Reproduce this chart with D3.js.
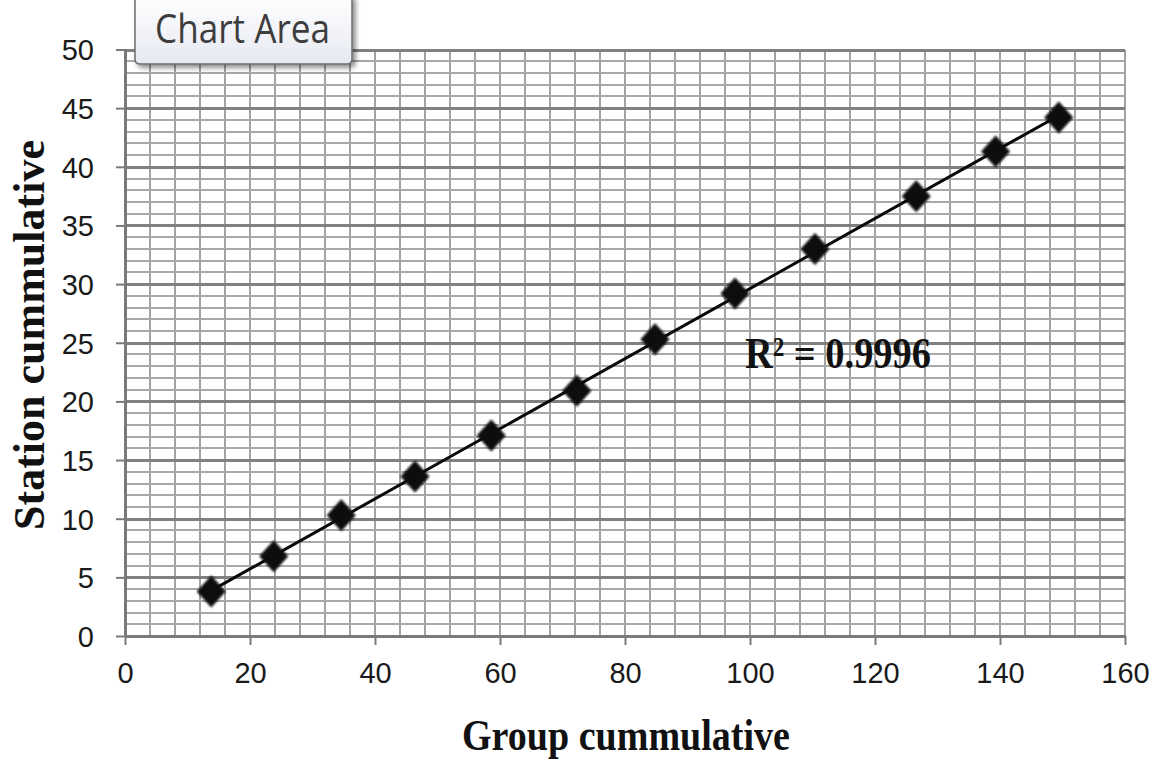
<!DOCTYPE html>
<html>
<head>
<meta charset="utf-8">
<script src="https://cdn.jsdelivr.net/npm/d3@7"></script>
<style>
  html, body { margin: 0; padding: 0; background: #ffffff; }
  svg { display: block; }
</style>
</head>
<body>
<script>
// Cumulative totals: group (x) against station (y)
const groupCumulative   = [13.8, 23.8, 34.6, 46.4, 58.6, 72.3, 84.8, 97.6, 110.4, 126.6, 139.3, 149.4];
const stationCumulative = [3.8, 6.8, 10.3, 13.6, 17.1, 20.9, 25.3, 29.2, 33.0, 37.5, 41.3, 44.2];
const xTickValues = [0, 20, 40, 60, 80, 100, 120, 140, 160];
const yTickValues = [0, 5, 10, 15, 20, 25, 30, 35, 40, 45, 50];
const xTitle = "Group cummulative";
const yTitle = "Station cummulative";
const tooltipText = "Chart Area";

const W = 1159, H = 763;
const svg = d3.select("body").append("svg").attr("width", W).attr("height", H);

const defs = svg.append("defs");
const grad = defs.append("linearGradient").attr("id", "tipFill").attr("x1", 0).attr("y1", 0).attr("x2", 0).attr("y2", 1);
grad.append("stop").attr("offset", "0%").attr("stop-color", "#ffffff");
grad.append("stop").attr("offset", "100%").attr("stop-color", "#e6e9f2");
const shadow = defs.append("filter").attr("id", "tipShadow").attr("x", "-10%").attr("y", "-10%").attr("width", "130%").attr("height", "150%");
shadow.append("feDropShadow").attr("dx", 3).attr("dy", 3).attr("stdDeviation", 2.5).attr("flood-color", "#000").attr("flood-opacity", 0.45);
const soft = defs.append("filter").attr("id", "soft").attr("x", "-30%").attr("y", "-30%").attr("width", "160%").attr("height", "160%");
soft.append("feGaussianBlur").attr("stdDeviation", 0.8);

const x = d3.scaleLinear().domain([0, 160]).range([125, 1125]);
const y = d3.scaleLinear().domain([0, 50]).range([636, 49.5]);

// Grid: minor vertical every 4 units, horizontal every unit, darker every 5
const grid = svg.append("g").attr("shape-rendering", "crispEdges");
grid.selectAll("line.v").data(d3.range(4, 161, 4)).join("line")
  .attr("x1", d => Math.round(x(d))).attr("x2", d => Math.round(x(d)))
  .attr("y1", y(0)).attr("y2", y(50))
  .attr("stroke", "#a3a3a3").attr("stroke-width", 2);
grid.selectAll("line.hm").data(d3.range(1, 51).filter(d => d % 5 !== 0)).join("line")
  .attr("x1", x(0)).attr("x2", x(160))
  .attr("y1", d => Math.round(y(d))).attr("y2", d => Math.round(y(d)))
  .attr("stroke", "#a8a8a8").attr("stroke-width", 2);
grid.selectAll("line.hM").data(yTickValues.filter(d => d > 0)).join("line")
  .attr("x1", x(0)).attr("x2", x(160))
  .attr("y1", d => Math.round(y(d))).attr("y2", d => Math.round(y(d)))
  .attr("stroke", "#808080").attr("stroke-width", 3);

// Axes
const xAxis = svg.append("g").attr("transform", `translate(0,${y(0)})`)
  .call(d3.axisBottom(x).tickValues(xTickValues).tickSize(9).tickPadding(22).tickSizeOuter(0));
const yAxis = svg.append("g").attr("transform", `translate(${x(0)},0)`)
  .call(d3.axisLeft(y).tickValues(yTickValues).tickSize(9).tickPadding(22).tickSizeOuter(0));
[xAxis, yAxis].forEach(g => {
  g.select(".domain").attr("stroke", "#7a7a7a").attr("stroke-width", 3);
  g.selectAll(".tick line").attr("stroke", "#7a7a7a").attr("stroke-width", 2);
  g.selectAll(".tick text")
    .attr("font-family", "'Liberation Sans', Arial, sans-serif")
    .attr("font-size", 29).attr("fill", "#1a1a1a");
});
xAxis.selectAll(".tick text").attr("dy", "0.55em");
yAxis.selectAll(".tick text").attr("dy", "0.36em");

// Linear trendline over the data range
const n = groupCumulative.length;
const mx = d3.mean(groupCumulative), my = d3.mean(stationCumulative);
let sxy = 0, sxx = 0;
for (let i = 0; i < n; i++) {
  sxy += (groupCumulative[i] - mx) * (stationCumulative[i] - my);
  sxx += (groupCumulative[i] - mx) ** 2;
}
const slope = sxy / sxx, intercept = my - slope * mx;
const xMin = d3.min(groupCumulative), xMax = d3.max(groupCumulative);
svg.append("line")
  .attr("x1", x(xMin)).attr("y1", y(intercept + slope * xMin))
  .attr("x2", x(xMax)).attr("y2", y(intercept + slope * xMax))
  .attr("stroke", "#0a0a0a").attr("stroke-width", 3);

// Diamond markers
const pts = groupCumulative.map((g, i) => ({ g, s: stationCumulative[i] }));
const hw = 14.5, hh = 16;
svg.append("g").selectAll("path").data(pts).join("path")
  .attr("d", d => `M${x(d.g)},${y(d.s) - hh}L${x(d.g) + hw},${y(d.s)}L${x(d.g)},${y(d.s) + hh}L${x(d.g) - hw},${y(d.s)}Z`)
  .attr("fill", "#080810").attr("filter", "url(#soft)");

// R-squared label
svg.append("text")
  .attr("x", 745).attr("y", 368)
  .attr("font-family", "'Liberation Serif', 'Times New Roman', serif")
  .attr("font-weight", "bold").attr("font-size", 44)
  .attr("textLength", 186).attr("lengthAdjust", "spacingAndGlyphs")
  .attr("fill", "#111")
  .text("R² = 0.9996");

// Axis titles
svg.append("text")
  .attr("x", 626).attr("y", 750).attr("text-anchor", "middle")
  .attr("font-family", "'Liberation Serif', 'Times New Roman', serif")
  .attr("font-weight", "bold").attr("font-size", 44)
  .attr("textLength", 328).attr("lengthAdjust", "spacingAndGlyphs")
  .attr("fill", "#111")
  .text(xTitle);
svg.append("text")
  .attr("transform", "translate(44,335) rotate(-90)").attr("text-anchor", "middle")
  .attr("font-family", "'Liberation Serif', 'Times New Roman', serif")
  .attr("font-weight", "bold").attr("font-size", 44)
  .attr("textLength", 390).attr("lengthAdjust", "spacingAndGlyphs")
  .attr("fill", "#111")
  .text(yTitle);

// "Chart Area" hover tip
const tip = svg.append("g");
tip.append("path")
  .attr("d", "M135,-4 L352,-4 L352,59 Q352,64 347,64 L140,64 Q135,64 135,59 Z")
  .attr("fill", "url(#tipFill)").attr("stroke", "#6e6e6e").attr("stroke-width", 1.5)
  .attr("filter", "url(#tipShadow)");
tip.append("text")
  .attr("x", 155).attr("y", 43)
  .attr("font-family", "'Open Sans', 'Noto Sans', sans-serif")
  .attr("font-size", 41)
  .attr("textLength", 175).attr("lengthAdjust", "spacingAndGlyphs")
  .attr("fill", "#3d3d3d")
  .text(tooltipText);
</script>
</body>
</html>
